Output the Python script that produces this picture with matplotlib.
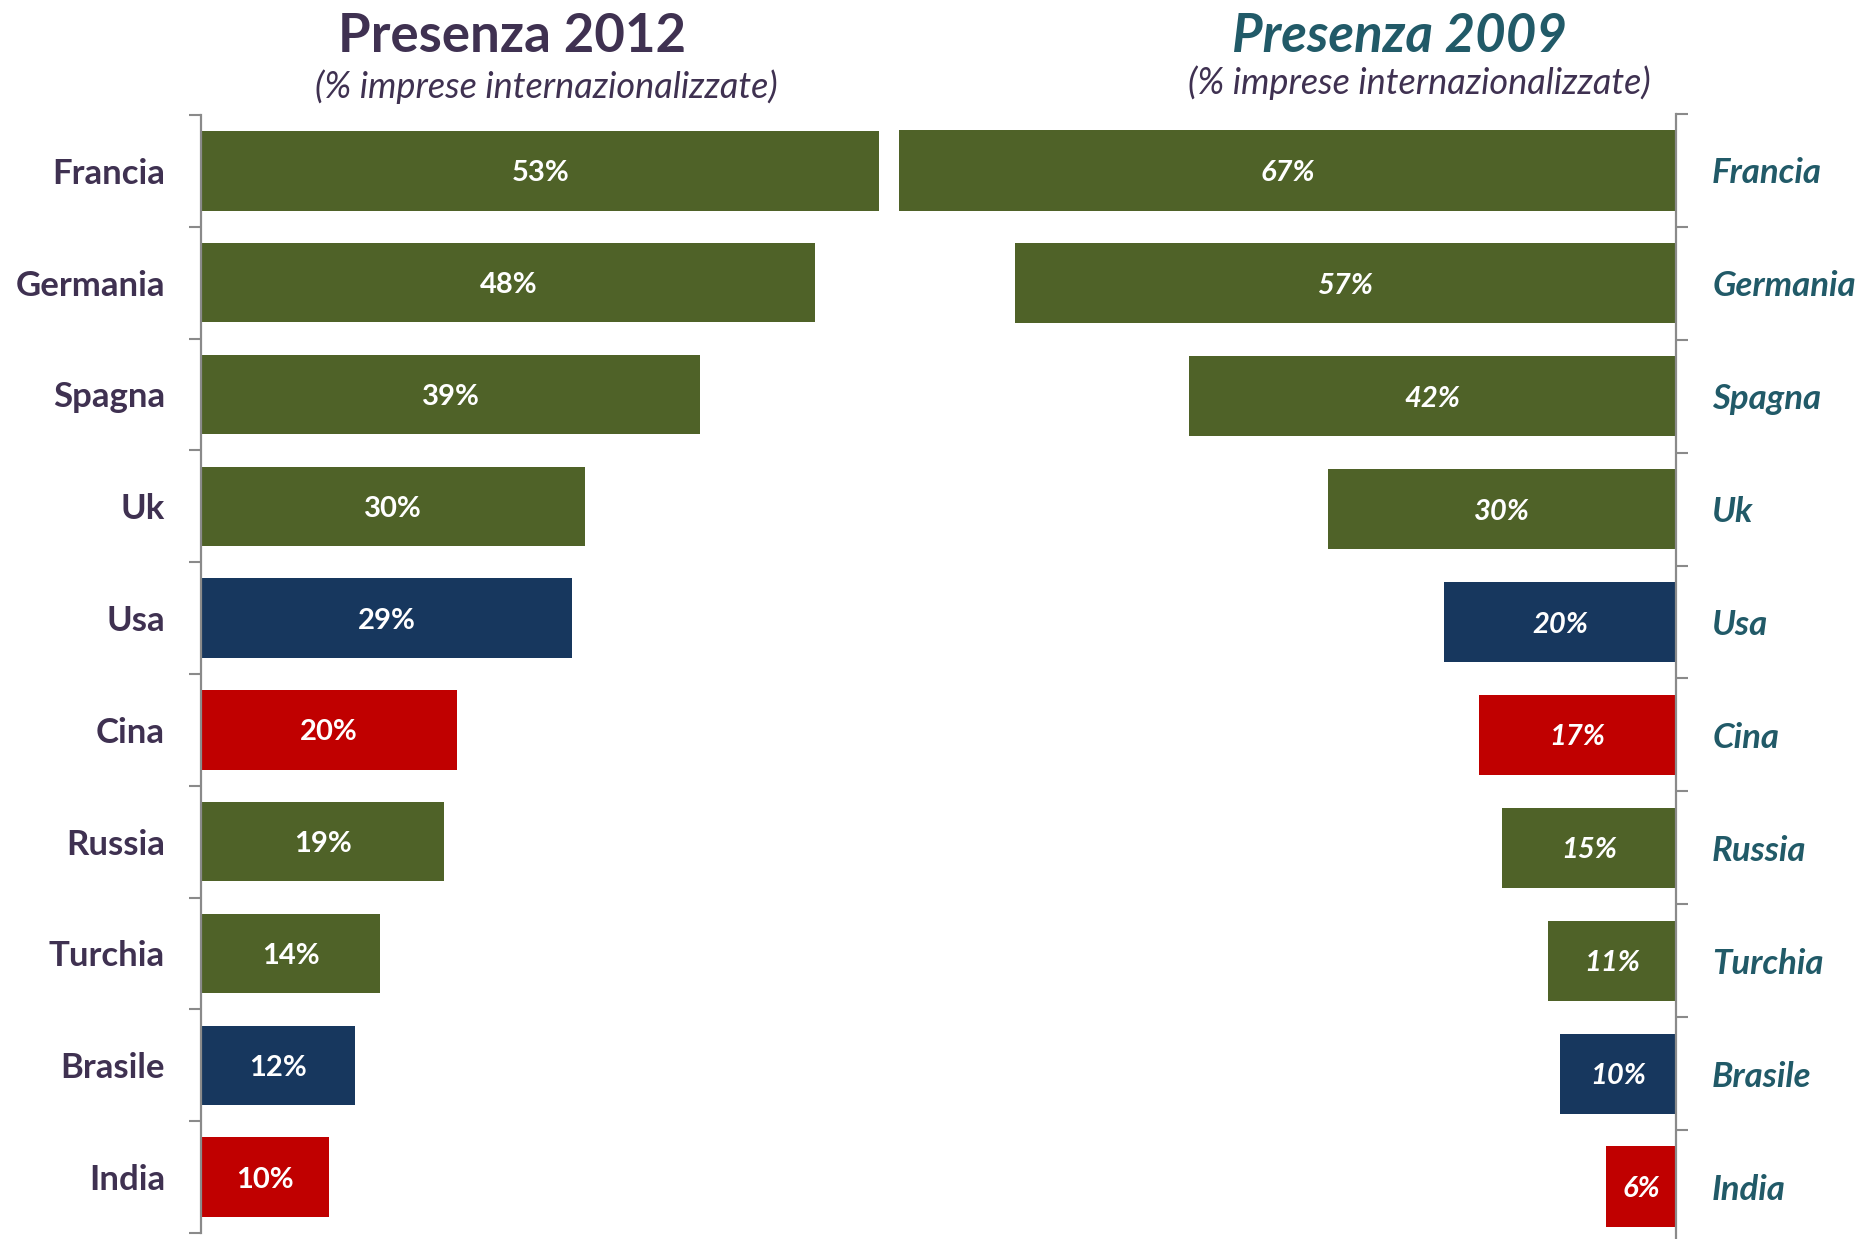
import matplotlib
matplotlib.use("Agg")
import matplotlib.pyplot as plt
import numpy as np

# presence of internationalised firms by country
paesi = ["Francia", "Germania", "Spagna", "Uk", "Usa", "Cina", "Russia", "Turchia", "Brasile", "India"]
pres_2012 = [53, 48, 39, 30, 29, 20, 19, 14, 12, 10]
pres_2009 = [67, 57, 42, 30, 20, 17, 15, 11, 10, 6]

verde = "#4f6228"
blu = "#17375e"
rosso = "#c00000"
viola = "#3f3151"
petrolio = "#215a68"
grigio = "#8a8a8a"

colore_paese = {"Usa": blu, "Brasile": blu, "Cina": rosso, "India": rosso}
colori = [colore_paese.get(p, verde) for p in paesi]

plt.rcParams["font.family"] = ["Lato", "DejaVu Sans"]

W, H = 1868, 1239
fig = plt.figure(figsize=(W / 100, H / 100), dpi=100)

y = np.arange(len(paesi))


def setup_axis(ax, side):
    ax.set_facecolor("none")
    ax.set_ylim(len(paesi) - 0.5, -0.5)
    for s in ["top", "bottom", "left", "right"]:
        ax.spines[s].set_visible(False)
    ax.spines[side].set_visible(True)
    ax.spines[side].set_color(grigio)
    ax.spines[side].set_linewidth(1.6)
    ax.set_xticks([])
    ax.set_yticks(y)
    ax.set_yticks(np.arange(-0.5, len(paesi), 1.0), minor=True)
    ax.tick_params(axis="y", which="major", length=0, pad=26)
    ax.tick_params(axis="y", which="minor", length=8.6, width=1.5, color=grigio, direction="out")


# left panel: 2012
ax1 = fig.add_axes([201 / W, 1 - 1233 / H, 54 * 12.8 / W, (1233 - 115) / H])
ax1.barh(y, pres_2012, height=0.71, color=colori)
ax1.set_xlim(0, 54)
setup_axis(ax1, "left")
ax1.set_yticklabels(paesi, fontsize=25, fontweight="bold", color=viola)
for yi, v in zip(y, pres_2012):
    ax1.text(v / 2, yi, f"{v}%", ha="center", va="center_baseline", color="white",
             fontsize=21, fontweight="bold")

# right panel: 2009, mirrored
ax2 = fig.add_axes([(1676 - 68 * 11.6) / W, 1 - 1243 / H, 68 * 11.6 / W, (1243 - 114) / H])
ax2.barh(y, pres_2009, height=0.71, color=colori)
ax2.set_xlim(68, 0)
setup_axis(ax2, "right")
ax2.yaxis.tick_right()
ax2.tick_params(axis="y", which="minor", length=8.6, width=1.5, color=grigio, direction="out")
ax2.set_yticklabels(paesi, fontsize=25, fontweight="bold", fontstyle="italic", color=petrolio)
for yi, v in zip(y, pres_2009):
    ax2.text(v / 2, yi, f"{v}%", ha="center", va="center_baseline", color="white",
             fontsize=21, fontweight="bold", fontstyle="italic")

# titles
fig.text(512 / W, 1 - 36 / H, "Presenza 2012", ha="center", va="center",
         fontsize=38, fontweight="bold", color=viola)
fig.text(546 / W, 1 - 87 / H, "(% imprese internazionalizzate)", ha="center", va="center",
         fontsize=26, fontstyle="italic", color=viola)
fig.text(1400 / W, 1 - 36 / H, "Presenza 2009", ha="center", va="center",
         fontsize=38, fontweight="bold", fontstyle="italic", color=petrolio)
fig.text(1419 / W, 1 - 83 / H, "(% imprese internazionalizzate)", ha="center", va="center",
         fontsize=26, fontstyle="italic", color=viola)

fig.savefig("out.png", dpi=100, facecolor="white")
